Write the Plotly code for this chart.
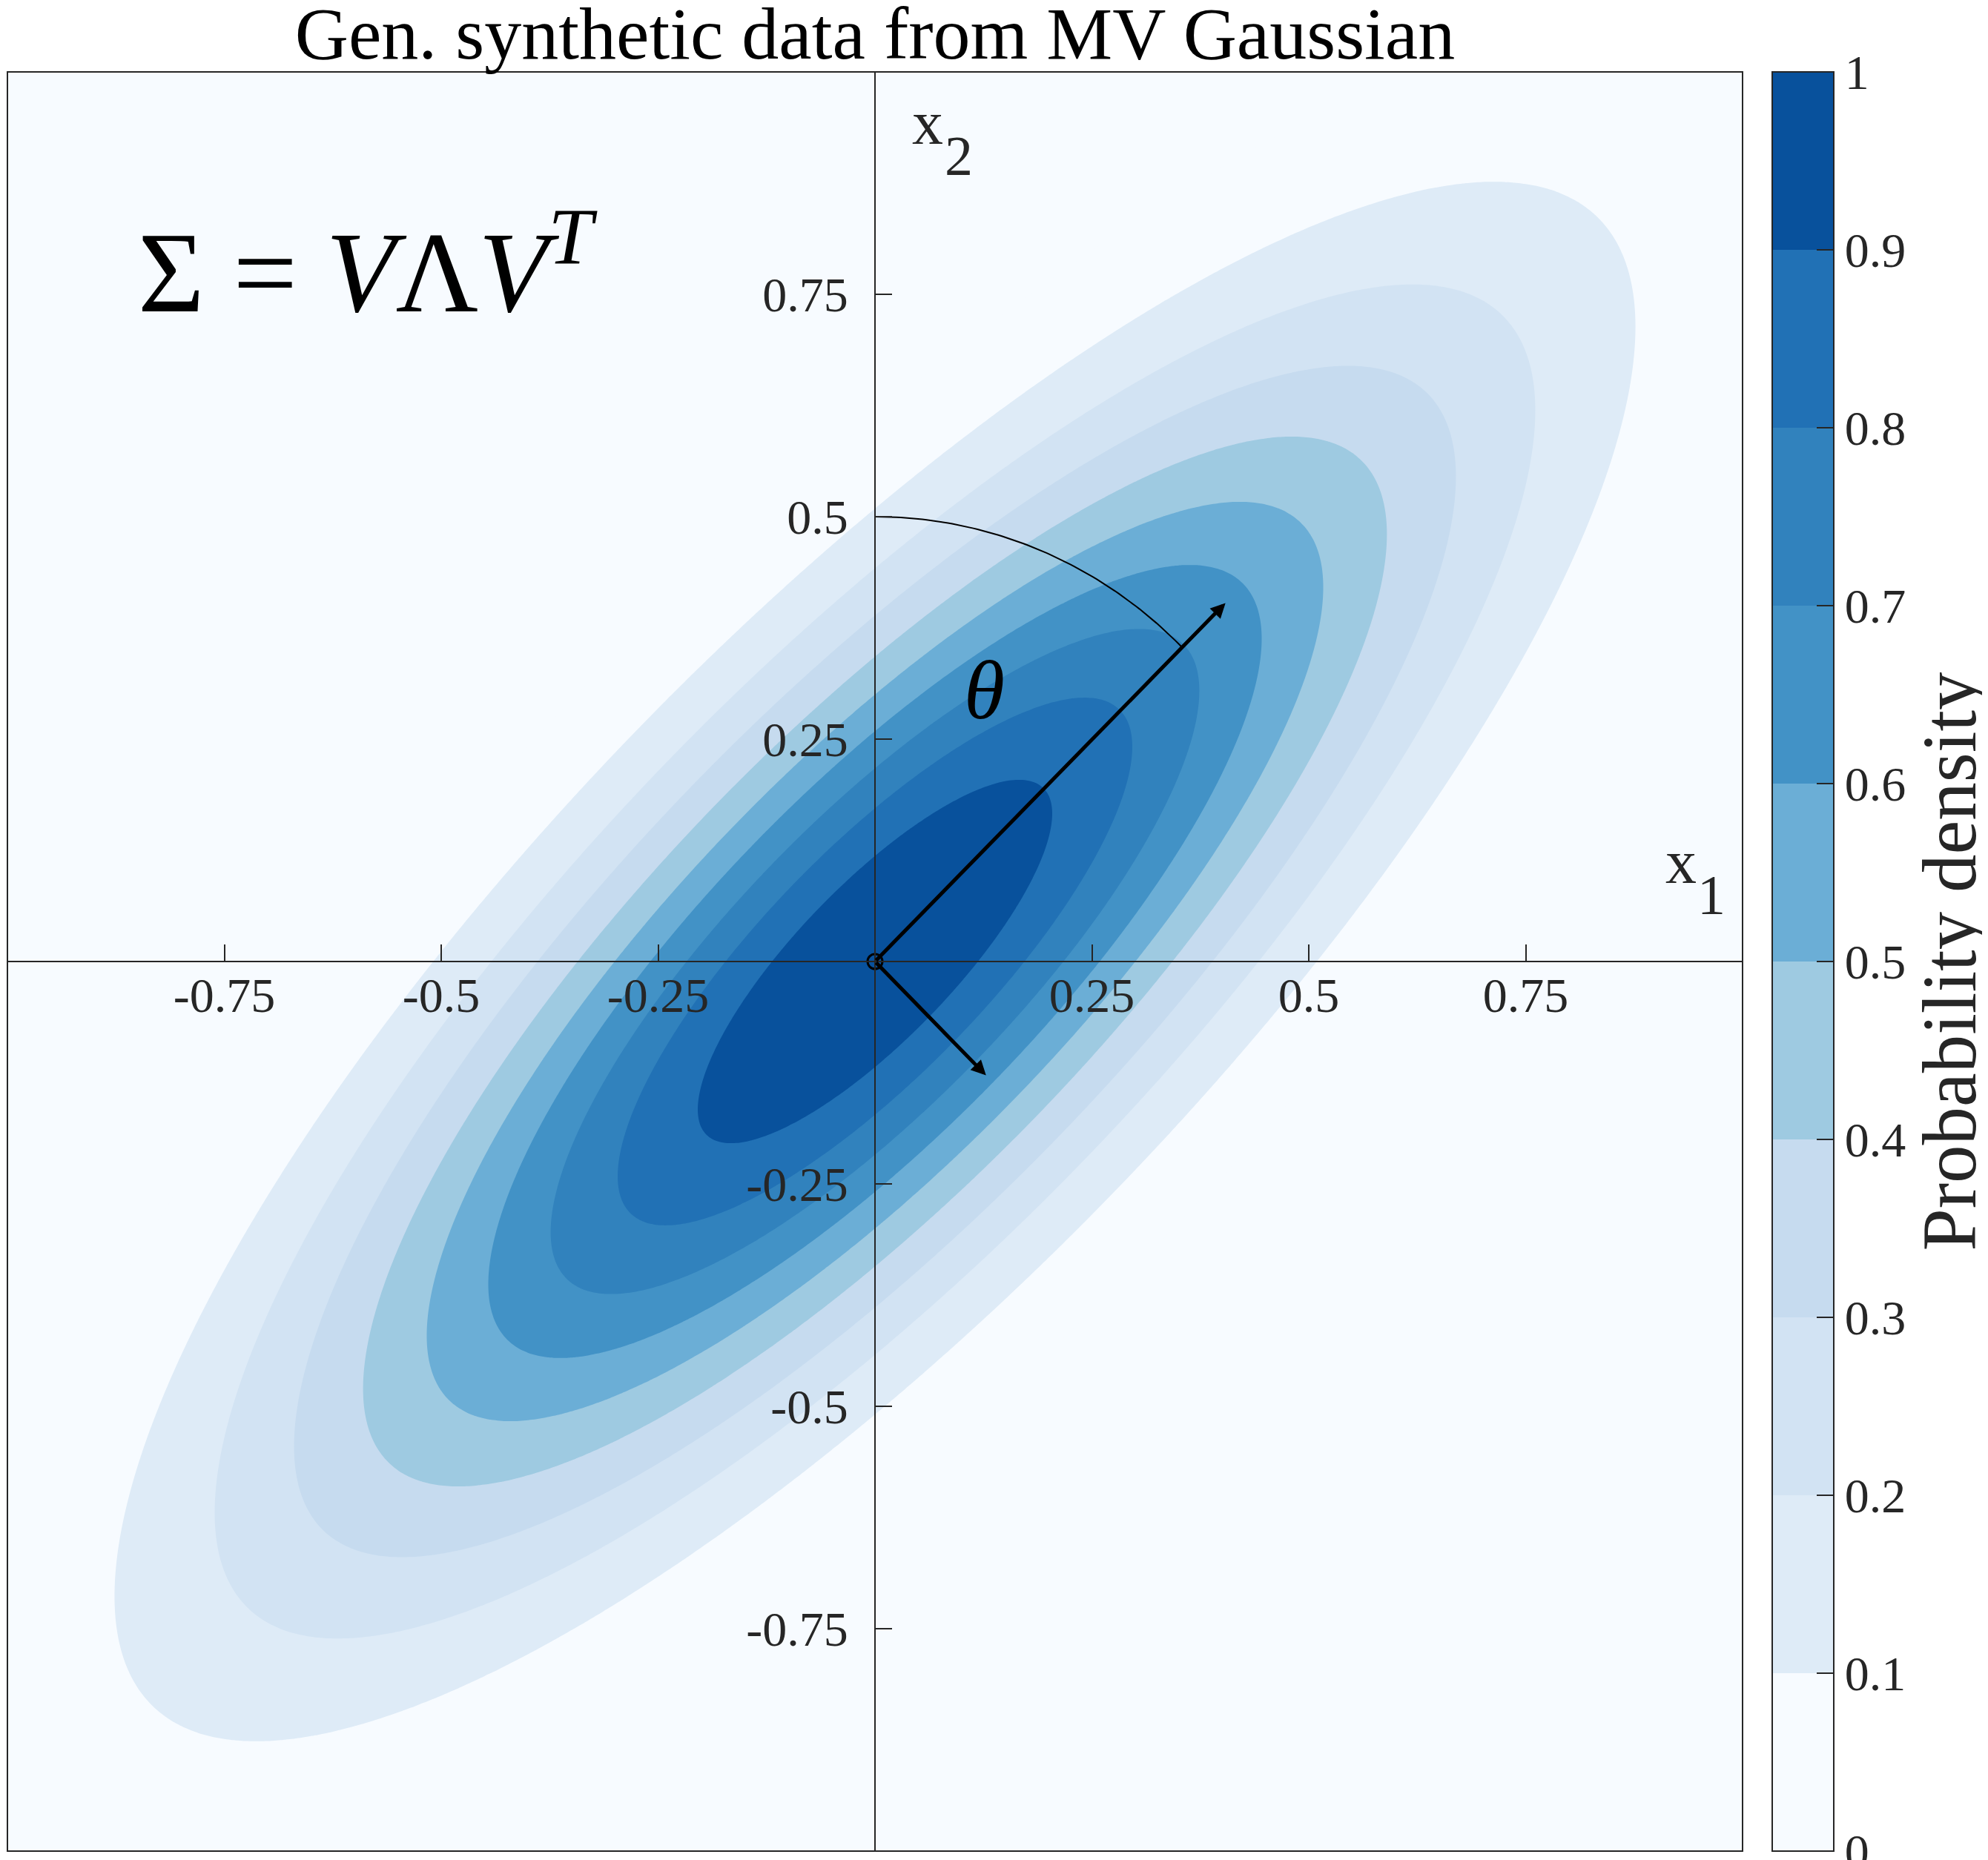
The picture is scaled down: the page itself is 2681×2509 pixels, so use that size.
import numpy as np
import plotly.graph_objects as go

# Gaussian
mean_x = 0.0
mean_y = 0.0
cov_row1 = [0.215, 0.175]
cov_row2 = [0.175, 0.215]
density_floor = 0.075

grid_x = np.linspace(-1, 1, 401)
grid_y = np.linspace(-1, 1, 401)

level_values = [0, 0.1, 0.2, 0.3, 0.4, 0.5, 0.6, 0.7, 0.8, 0.9, 1]
level_labels = ["0", "0.1", "0.2", "0.3", "0.4", "0.5", "0.6", "0.7", "0.8", "0.9", "1"]
band_colors = ["#f7fbff", "#deebf7", "#d2e3f3", "#c6dbef", "#9ecae1",
               "#6baed6", "#4292c6", "#3182bd", "#2171b5", "#08519c"]

axis_ticks = [-0.75, -0.5, -0.25, 0.25, 0.5, 0.75]
axis_tick_labels = ["-0.75", "-0.5", "-0.25", "0.25", "0.5", "0.75"]

# eigenvector arrow tips
arrow_tip_x = [0.404, 0.128]
arrow_tip_y = [0.403, -0.128]

arc_radius = 0.5
arc_start_deg = 90
arc_end_deg = 45

FONT = "Liberation Serif"
INK = "#262626"

cov = np.array([cov_row1, cov_row2])
prec = np.linalg.inv(cov)
X, Y = np.meshgrid(grid_x, grid_y)
dx = X - mean_x
dy = Y - mean_y
q = prec[0, 0] * dx**2 + 2 * prec[0, 1] * dx * dy + prec[1, 1] * dy**2
z = (np.exp(-q / 2) - density_floor) / (1 - density_floor)

colorscale = []
n = len(band_colors)
for k, c in enumerate(band_colors):
    colorscale.append([k / n, c])
    colorscale.append([(k + 1) / n, c])

fig = go.Figure()
fig.add_trace(go.Contour(
    x=grid_x, y=grid_y, z=z,
    zmin=0, zmax=1,
    autocontour=False,
    contours=dict(start=0, end=1, size=0.1, coloring="fill", showlines=False),
    colorscale=colorscale,
    line=dict(width=0),
    showscale=False,
    hoverinfo="skip",
))

# colour bar carried by an invisible marker so it spans exactly 0..1
fig.add_trace(go.Scatter(
    x=[mean_x], y=[mean_y], mode="markers",
    marker=dict(
        size=1, opacity=0, color=[0.5], cmin=0, cmax=1,
        colorscale=colorscale, showscale=True,
        colorbar=dict(
            x=1.017, xanchor="left", xpad=0, ypad=0,
            y=0.5, yanchor="middle", len=1, lenmode="fraction",
            thickness=83, thicknessmode="pixels",
            outlinecolor=INK, outlinewidth=2,
            tickvals=level_values, ticktext=level_labels,
            ticks="inside", ticklen=24, tickwidth=2, tickcolor=INK,
            ticklabeloverflow="allow",
            tickfont=dict(family=FONT, size=66, color=INK),
            title=dict(text="Probability density", side="right",
                       font=dict(family=FONT, size=103, color=INK)),
        ),
    ),
    showlegend=False, hoverinfo="skip",
))

ang = np.radians(np.linspace(arc_start_deg, arc_end_deg, 80))
fig.add_trace(go.Scatter(
    x=mean_x + arc_radius * np.cos(ang), y=mean_y + arc_radius * np.sin(ang),
    mode="lines", line=dict(color="black", width=2),
    showlegend=False, hoverinfo="skip",
))
fig.add_trace(go.Scatter(
    x=[mean_x], y=[mean_y], mode="markers",
    marker=dict(symbol="circle-open", size=20, color="black", line=dict(width=3)),
    showlegend=False, hoverinfo="skip",
))

for tx, ty in zip(arrow_tip_x, arrow_tip_y):
    fig.add_annotation(
        x=tx, y=ty, ax=mean_x, ay=mean_y, axref="x", ayref="y",
        text="", showarrow=True, arrowhead=2, arrowsize=0.8,
        arrowwidth=5, arrowcolor="black",
    )

fig.add_annotation(x=-0.585, y=0.784, text="Σ = <i>V</i>Λ<i>V</i><sup><i>T</i></sup>",
                   showarrow=False, font=dict(family=FONT, size=154, color="black"))
fig.add_annotation(x=0.126, y=0.305, text="<i>θ</i>", showarrow=False,
                   font=dict(family=FONT, size=112, color="black"))

# axis names: letter and index placed separately, as in the reference
fig.add_annotation(x=0.929, y=0.112, text="x", showarrow=False,
                   font=dict(family=FONT, size=84, color=INK))
fig.add_annotation(x=0.964, y=0.075, text="1", showarrow=False,
                   font=dict(family=FONT, size=76, color=INK))
fig.add_annotation(x=0.061, y=0.943, text="x", showarrow=False,
                   font=dict(family=FONT, size=84, color=INK))
fig.add_annotation(x=0.097, y=0.906, text="2", showarrow=False,
                   font=dict(family=FONT, size=76, color=INK))

fig.update_layout(
    width=2681, height=2509,
    title=dict(text="Gen. synthetic data from MV Gaussian", x=0.5, xref="paper",
               xanchor="center", y=1 - 36 / 2509, yref="container", yanchor="middle",
               font=dict(family=FONT, size=100, color="black")),
    paper_bgcolor="white",
    plot_bgcolor=band_colors[0],
    margin=dict(l=2, r=327, t=89, b=20),
    showlegend=False,
    shapes=[dict(type="rect", xref="paper", yref="paper", x0=0, x1=1, y0=0, y1=1,
                 line=dict(color=INK, width=2))],
)
fig.update_xaxes(
    range=[-1, 1], anchor="free", position=0.5,
    showline=True, linecolor=INK, linewidth=2,
    ticks="inside", ticklen=22, tickwidth=2, tickcolor=INK,
    tickvals=axis_ticks, ticktext=axis_tick_labels, ticklabelstandoff=-12,
    tickfont=dict(family=FONT, size=66, color=INK),
    showgrid=False, zeroline=False,
)
fig.update_yaxes(
    range=[-1, 1], anchor="free", position=0.5,
    showline=True, linecolor=INK, linewidth=2,
    ticks="inside", ticklen=22, tickwidth=2, tickcolor=INK,
    tickvals=axis_ticks, ticktext=axis_tick_labels, ticklabelstandoff=22,
    tickfont=dict(family=FONT, size=66, color=INK),
    showgrid=False, zeroline=False,
)

fig.write_html("out.html")
